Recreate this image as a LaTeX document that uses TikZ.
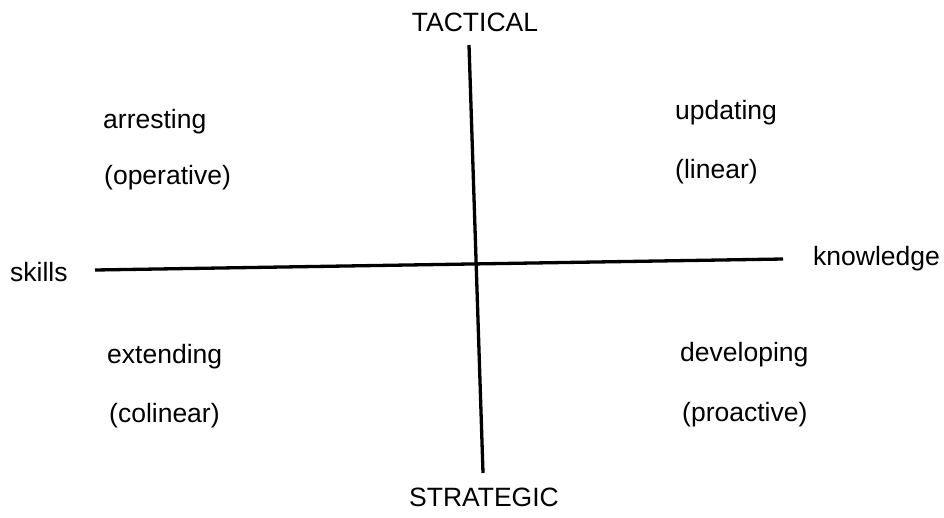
\documentclass[tikz,border=0pt]{standalone}
\usepackage{fontspec}
\setmainfont{Liberation Sans}
\begin{document}
\begin{tikzpicture}[x=1pt,y=-1pt,
  lbl/.style={anchor=base west,inner sep=0pt,font=\fontsize{26.5}{30}\selectfont},
  ttl/.style={anchor=base,inner sep=0pt,font=\fontsize{26.5}{30}\selectfont},
  axis/.style={line width=3.3pt,black}]
\useasboundingbox[fill=white] (0,0) rectangle (944,517);
\coordinate (vt) at (469,45);
\coordinate (vb) at (483,473);
\coordinate (hl) at (95,270);
\coordinate (hr) at (783,259);
\draw[axis] (vt) -- (vb);
\draw[axis] (hl) -- (hr);
\node[ttl] (tac) at (475,31) {TACTICAL};
\node[ttl] (str) at (484,506) {STRATEGIC};
\node[lbl] (sk) at (10,281) {skills};
\node[lbl] (kn) at (813,265) {knowledge};
\node[lbl] (ar) at (103,128) {arresting};
\node[lbl] (op) at (104,184) {(operative)};
\node[lbl] (up) at (675,119) {updating};
\node[lbl] (li) at (675,178) {(linear)};
\node[lbl] (ex) at (107,363) {extending};
\node[lbl] (co) at (109,422) {(colinear)};
\node[lbl] (de) at (680,361) {developing};
\node[lbl] (pr) at (682,421) {(proactive)};
\end{tikzpicture}
\end{document}
